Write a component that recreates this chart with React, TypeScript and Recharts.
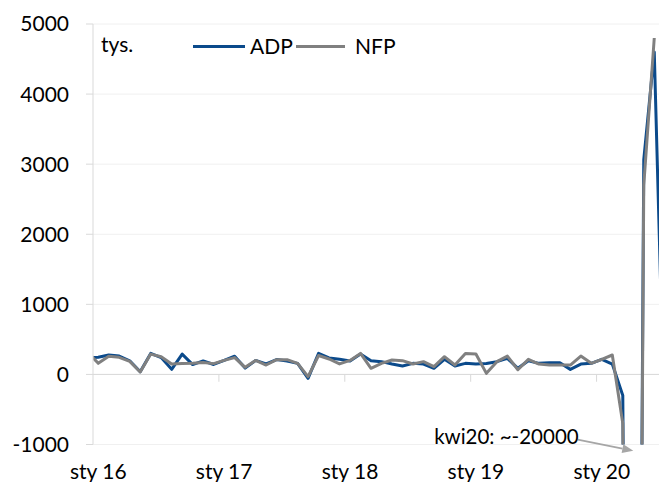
import React from 'react';
import { LineChart, Line, XAxis, YAxis, CartesianGrid, ReferenceLine, Legend } from 'recharts';

// Months: gru 15 (partly hidden at the left edge) .. lip 20
const monthNames = ['sty', 'lut', 'mar', 'kwi', 'maj', 'cze', 'lip', 'sie', 'wrz', 'paź', 'lis', 'gru'];
const months: string[] = ['gru 15'];
for (let y = 16; y <= 20; y++) {
  for (let m = 0; m < 12; m++) {
    if (y === 20 && m > 6) break;
    months.push(`${monthNames[m]} ${y}`);
  }
}

// ADP, tys. (Dec 2015 .. Jul 2020)
const adp: (number | null)[] = [
  235,
  245, 277, 262, 195, 38, 300, 240, 72, 290, 140, 193, 142,
  200, 260, 90, 200, 150, 212, 190, 158, -56, 300, 235, 215,
  190, 291, 196, 182, 148, 120, 158, 148, 87, 215, 120, 158,
  148, 155, 182, 229, 87, 196, 158, 167, 167, 72, 148, 158,
  215, 148, -300, -20200, 3065, 4600, -870,
];

// NFP, tys. (Dec 2015 .. Jul 2020)
const nfp: (number | null)[] = [
  320,
  158, 258, 244, 186, 35, 290, 252, 149, 155, 158, 170, 154,
  200, 240, 101, 200, 134, 210, 210, 158, -32, 270, 220, 150,
  200, 300, 87, 158, 205, 196, 148, 182, 110, 253, 134, 300,
  291, 15, 182, 262, 67, 215, 148, 134, 134, 134, 262, 158,
  215, 277, -700, -20500, 2700, 4800, null,
];

const xTickLabels = ['sty 16', 'sty 17', 'sty 18', 'sty 19', 'sty 20'];
const yTicks = [-1000, 0, 1000, 2000, 3000, 4000, 5000];
const unitLabel = 'tys.';
const annotationText = 'kwi20: ~-20000';

const ADP_COLOR = '#0b4a8b';
const NFP_COLOR = '#808080';
const AXIS_COLOR = '#d9d9d9';
const GRID_COLOR = '#f0f0f0';
const FONT = 'Lato, "Open Sans", sans-serif';

// month i sits at the centre of its band: x = i - 0.5 (Jan 16 -> 0.5)
const data = months.map((m, i) => ({ x: i - 0.5, month: m, adp: adp[i], nfp: nfp[i] }));
const janTicks = data.filter((d) => d.month.startsWith('sty')).map((d) => d.x);
const yearBounds = janTicks.map((t) => t - 0.5).filter((b) => b > 0);

// annotation arrow, in data units
const arrowFrom = { x: 46.2, y: -930 };
const arrowTo = { x: 51.5, y: -1090 };

const ArrowShape = (p: any) => {
  const { x1, y1, x2, y2 } = p;
  const ang = Math.atan2(y2 - y1, x2 - x1);
  const L = 11;
  const hw = 4.5;
  const bx = x2 - L * Math.cos(ang);
  const by = y2 - L * Math.sin(ang);
  const pts = `${x2},${y2} ${bx + hw * Math.sin(ang)},${by - hw * Math.cos(ang)} ${bx - hw * Math.sin(ang)},${by + hw * Math.cos(ang)}`;
  return (
    <g>
      <line x1={x1} y1={y1} x2={bx} y2={by} stroke="#a6a6a6" strokeWidth={1.75} />
      <polygon points={pts} fill="#a6a6a6" />
      <text x={x1 + 1} y={y1 + 4} textAnchor="end" fontSize={20.5} fontFamily={FONT} fill="#000">
        {annotationText}
      </text>
    </g>
  );
};

const legendLayout = [
  { line: 184.7, w: 52, text: 242 },
  { line: 288, w: 49, text: 347 },
];

const renderLegend = (props: any) => {
  const payload = props.payload || [];
  return (
    <div style={{ position: 'relative', width: 600, height: 60, fontFamily: FONT, fontSize: 21, lineHeight: '21px', color: '#000' }}>
      <span style={{ position: 'absolute', left: 93, top: 25, whiteSpace: 'nowrap' }}>{unitLabel}</span>
      {payload.map((item: any, i: number) => (
        <React.Fragment key={i}>
          <div style={{ position: 'absolute', left: legendLayout[i].line, top: 36.5, width: legendLayout[i].w, height: 3, background: item.color }} />
          <span style={{ position: 'absolute', left: legendLayout[i].text, top: 26.5, whiteSpace: 'nowrap' }}>{item.value}</span>
        </React.Fragment>
      ))}
    </div>
  );
};

export default function App() {
  return (
    <div style={{ width: 659, height: 482, overflow: 'hidden', fontFamily: FONT, background: '#fff' }}>
      <style>{'html,body{margin:0;padding:0;overflow:hidden;}'}</style>
      <div style={{ position: 'relative', left: 8, top: 8, width: 662, height: 474 }}>
        <LineChart width={662} height={474} data={data} margin={{ top: 16, right: 0, bottom: 0, left: 0 }}>
          <CartesianGrid vertical={false} stroke={GRID_COLOR} />
          <XAxis
            type="number"
            dataKey="x"
            domain={[0, 55]}
            allowDataOverflow
            ticks={janTicks}
            interval={0}
            tickFormatter={(v: number) => xTickLabels[Math.round((v - 0.5) / 12)] ?? ''}
            axisLine={false}
            tickLine={false}
            tickSize={0}
            tickMargin={20}
            height={37.5}
            tick={{ fill: '#000', fontSize: 21, fontFamily: FONT }}
          />
          <YAxis
            domain={[-1000, 5000]}
            allowDataOverflow
            ticks={yTicks}
            interval={0}
            width={85}
            axisLine={{ stroke: AXIS_COLOR }}
            tickLine={{ stroke: AXIS_COLOR }}
            tickSize={7}
            tickMargin={17}
            tick={{ fill: '#000', fontSize: 21, fontFamily: FONT }}
          />
          <ReferenceLine y={0} stroke={AXIS_COLOR} strokeWidth={1} />
          {yearBounds.map((b) => (
            <ReferenceLine key={b} segment={[{ x: b, y: 0 }, { x: b, y: -105 }]} stroke={AXIS_COLOR} ifOverflow="visible" />
          ))}
          <Line dataKey="adp" name="ADP" stroke={ADP_COLOR} strokeWidth={3} dot={false} strokeLinejoin="round" isAnimationActive={false} />
          <Line dataKey="nfp" name="NFP" stroke={NFP_COLOR} strokeWidth={3} dot={false} strokeLinejoin="round" isAnimationActive={false} />
          <ReferenceLine segment={[arrowFrom, arrowTo]} ifOverflow="visible" shape={ArrowShape} />
          <Legend content={renderLegend} verticalAlign="middle" layout="horizontal" wrapperStyle={{ top: 0, left: 0, width: 600, height: 60 }} />
        </LineChart>
      </div>
    </div>
  );
}
